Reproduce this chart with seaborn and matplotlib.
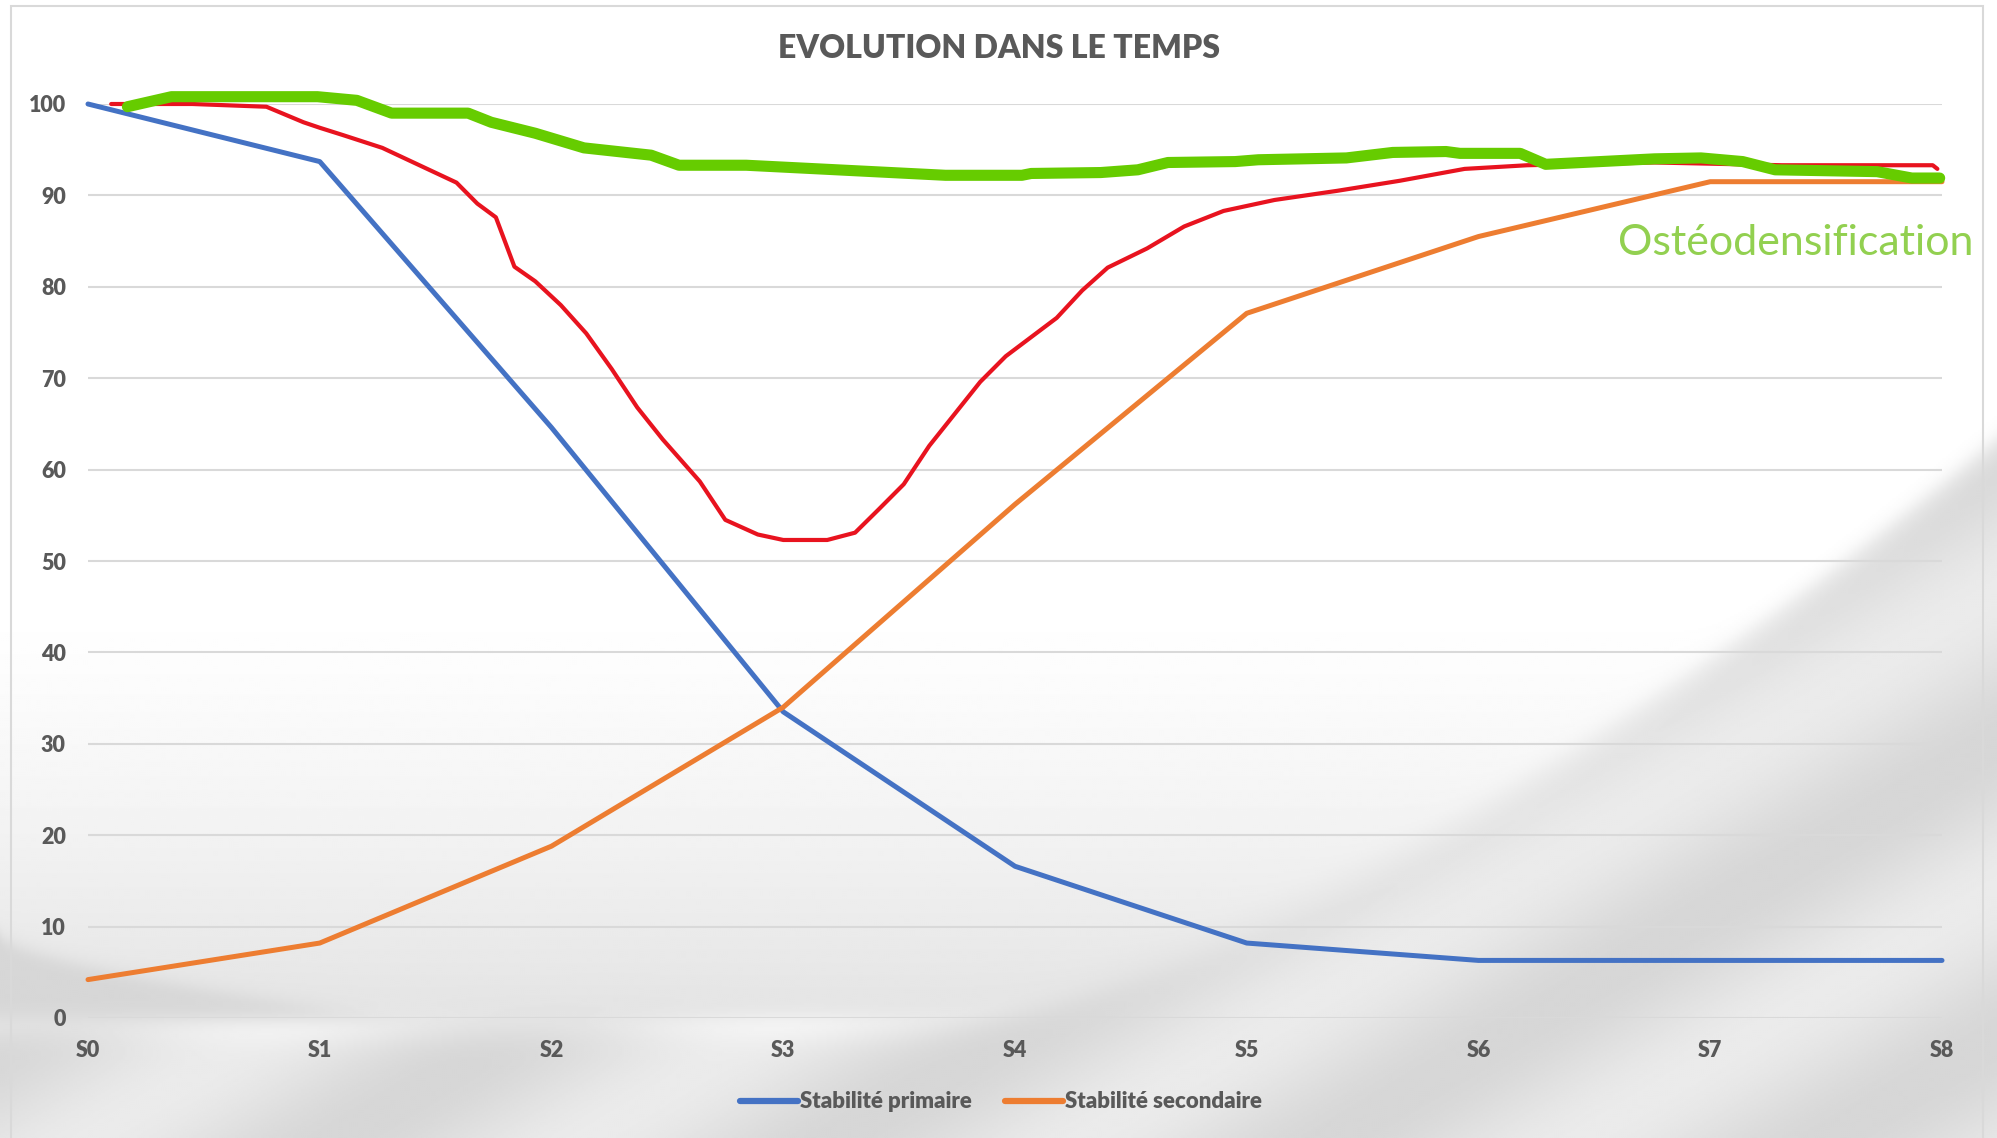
import numpy as np
import pandas as pd
import matplotlib
matplotlib.use("Agg")
import matplotlib.pyplot as plt
import seaborn as sns
from matplotlib.lines import Line2D
from matplotlib.patches import Rectangle

# categories / stages
stages = ["S0", "S1", "S2", "S3", "S4", "S5", "S6", "S7", "S8"]
stab_primaire = [100, 93.7, 64.6, 33.5, 16.6, 8.2, 6.3, 6.3, 6.3]
stab_secondaire = [4.2, 8.2, 18.8, 34.0, 56.2, 77.1, 85.5, 91.5, 91.5]

# hand drawn red curve (position along stages, value)
red_x = [0.10, 0.45, 0.77, 0.93, 1.00, 1.10, 1.27, 1.43, 1.59, 1.68, 1.76, 1.84, 1.93,
         2.04, 2.15, 2.26, 2.37, 2.48, 2.64, 2.75, 2.89, 3.00, 3.19, 3.31, 3.41, 3.52,
         3.63, 3.74, 3.85, 3.96, 4.07, 4.18, 4.29, 4.40, 4.57, 4.73, 4.90, 5.12, 5.39,
         5.66, 5.94, 6.21, 6.76, 7.31, 7.96, 7.98]
red_y = [100, 100, 99.7, 98.0, 97.4, 96.6, 95.2, 93.3, 91.4, 89.1, 87.6, 82.2, 80.6,
         78.0, 74.9, 71.0, 66.8, 63.3, 58.7, 54.5, 52.9, 52.3, 52.3, 53.1, 55.6, 58.4,
         62.6, 66.1, 69.6, 72.4, 74.5, 76.6, 79.6, 82.1, 84.2, 86.6, 88.3, 89.5, 90.5,
         91.6, 92.9, 93.3, 93.6, 93.3, 93.3, 92.9]

# hand drawn green curve (Ostéodensification)
green_x = [0.17, 0.36, 0.99, 1.16, 1.31, 1.64, 1.74, 1.93, 2.14, 2.43, 2.55, 2.84, 3.70,
           4.03, 4.07, 4.37, 4.53, 4.66, 4.95, 5.05, 5.43, 5.63, 5.86, 5.92, 6.18, 6.29,
           6.76, 6.96, 7.14, 7.28, 7.72, 7.87, 7.99]
green_y = [99.7, 100.8, 100.8, 100.4, 99.0, 99.0, 98.0, 96.8, 95.2, 94.4, 93.3, 93.3, 92.2,
           92.2, 92.4, 92.5, 92.8, 93.6, 93.7, 93.9, 94.1, 94.7, 94.8, 94.6, 94.6, 93.4,
           94.0, 94.1, 93.7, 92.8, 92.6, 91.9, 91.9]

W, H, DPI = 1997, 1138, 100
TXT = "#595959"
BLUE, ORANGE, RED, GREEN = "#4472C4", "#ED7D31", "#E8131F", "#66CC00"

sns.set_style("white")
plt.rcParams["font.family"] = ["Lato", "DejaVu Sans"]

fig = plt.figure(figsize=(W / DPI, H / DPI), dpi=DPI)

# background swoosh (decoration only)
bg = fig.add_axes([0, 0, 1, 1], zorder=-5)
xx, yy = np.meshgrid(np.linspace(0, W, 1000), np.linspace(0, H, 570))
img = np.ones_like(xx)
img -= 0.15 * np.clip((yy - 600) / 540, 0, 1) ** 1.3
curve = 1018 - 580 * ((xx - 890) / 1107).clip(0) ** 1.6
t = 1 / (1 + np.exp(-(yy - curve) / 6))
streak = 0.08 * np.sin((xx * 0.6 + yy) / 95) ** 2
right = 0.92 - streak + 0.05 * np.exp(-((yy - curve) / 25) ** 2)
img = img * (1 - t) + right * t
bowl = 936 + 80 * np.clip(xx / 500, 0, 1) ** 0.6 + 0.04 * xx
tb = (1 / (1 + np.exp(-(yy - bowl) / 5))) * (1 - t)
img = img * (1 - tb) + 0.84 * tb
bg.imshow(np.clip(img, 0, 1), cmap="gray", vmin=0, vmax=1, extent=[0, W, H, 0],
          aspect="auto", interpolation="bilinear")
bg.set_xlim(0, W)
bg.set_ylim(H, 0)
bg.axis("off")
fig.patches.append(Rectangle((11 / W, -0.01), 1972 / W, 1 - 6 / H + 0.01, transform=fig.transFigure,
                             fill=False, edgecolor="#D9D9D9", linewidth=1.5))

ax = fig.add_axes([88 / W, 1 - 1018 / H, (1942 - 88) / W, (1018 - 104) / H])
ax.patch.set_alpha(0)

df = pd.DataFrame({
    "pos": list(range(len(stages))) * 2,
    "valeur": stab_primaire + stab_secondaire,
    "serie": ["Stabilité primaire"] * len(stages) + ["Stabilité secondaire"] * len(stages),
})
sns.lineplot(data=df, x="pos", y="valeur", hue="serie", palette=[BLUE, ORANGE],
             linewidth=3.6, legend=False, ax=ax, zorder=3)
sns.lineplot(x=red_x, y=red_y, color=RED, linewidth=3.0, ax=ax, sort=False, zorder=4)
sns.lineplot(x=green_x, y=green_y, color=GREEN, linewidth=8, ax=ax, sort=False, zorder=5)
for ln in ax.lines:
    ln.set_clip_on(False)
    ln.set_solid_capstyle("round")
    ln.set_solid_joinstyle("round")

ax.set_xlim(0, 8)
ax.set_ylim(0, 100)
ax.set_yticks(range(0, 101, 10))
ax.set_xticks(range(len(stages)))
ax.set_xticklabels(stages)
ax.grid(axis="y", color="#D9D9D9", linewidth=1.5)
ax.set_axisbelow(True)
for s in ax.spines.values():
    s.set_visible(False)
ax.tick_params(length=0, labelsize=15.5, labelcolor=TXT, pad=16)
for lab in ax.get_xticklabels() + ax.get_yticklabels():
    lab.set_fontweight("heavy")
ax.set_xlabel("")
ax.set_ylabel("")

fig.text(0.5, 1 - 49 / H, "EVOLUTION DANS LE TEMPS", ha="center", va="center",
         fontsize=23, fontweight="heavy", color=TXT)
fig.text(1974 / W, 1 - 243 / H, "Ostéodensification", ha="right", va="center",
         fontsize=31, color="#92D050")

handles = [Line2D([], [], color=BLUE, linewidth=4.5, solid_capstyle="round"),
           Line2D([], [], color=ORANGE, linewidth=4.5, solid_capstyle="round")]
leg = fig.legend(handles, ["Stabilité primaire", "Stabilité secondaire"], loc="center",
                 bbox_to_anchor=(1001 / W, 1 - 1102 / H), ncol=2, frameon=False,
                 handlelength=2.6, handletextpad=0.1, columnspacing=1.5,
                 prop={"size": 16, "weight": "heavy"})
for t in leg.get_texts():
    t.set_color(TXT)

fig.savefig("out.png", dpi=DPI)
